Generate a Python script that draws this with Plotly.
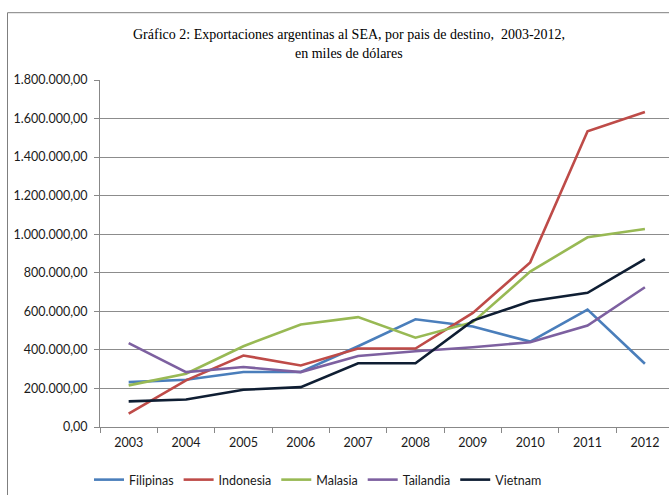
import plotly.graph_objects as go

years = ["2003", "2004", "2005", "2006", "2007", "2008", "2009", "2010", "2011", "2012"]
filipinas = [233000, 245000, 285000, 285000, 419000, 559000, 521000, 443000, 609000, 328000]
indonesia = [69000, 242000, 371000, 319000, 407000, 407000, 592000, 854000, 1534000, 1634000]
malasia = [216000, 276000, 419000, 532000, 570000, 463000, 544000, 806000, 984000, 1027000]
tailandia = [435000, 285000, 311000, 285000, 368000, 393000, 414000, 440000, 526000, 725000]
vietnam = [133000, 143000, 193000, 207000, 331000, 331000, 552000, 652000, 696000, 871000]

series = [
    ("Filipinas", filipinas, "#4A7EBB"),
    ("Indonesia", indonesia, "#BE4B48"),
    ("Malasia", malasia, "#98B954"),
    ("Tailandia", tailandia, "#7D60A0"),
    ("Vietnam", vietnam, "#0F1E33"),
]

fig = go.Figure()
for name, vals, col in series:
    fig.add_trace(go.Scatter(x=years, y=vals, name=name, mode="lines",
                             line=dict(color=col, width=2.6)))

W, H = 669, 495
L, R, T, B = 100, 0, 80, 67
pw, ph = W - L - R, H - T - B

def px2paper_x(x):
    return (x - L) / pw

def px2paper_y(y):
    return (H - B - y) / ph

fig.update_layout(
    width=W, height=H,
    margin=dict(l=L, r=R, t=T, b=B),
    paper_bgcolor="white", plot_bgcolor="white",
    separators=",.",
    font=dict(family="Lato, sans-serif", size=12, color="#1a1a1a"),
    showlegend=True,
    legend=dict(orientation="h", x=px2paper_x(318), xanchor="center",
                y=px2paper_y(481), yanchor="middle",
                font=dict(family="Lato, sans-serif", size=12.5, color="#1a1a1a"),
                itemwidth=30, tracegroupgap=0),
    xaxis=dict(type="category", range=[-0.5, 9.42], showgrid=False,
               showline=True, linecolor="#888888", linewidth=1,
               ticks="outside", tickson="boundaries", ticklen=5, tickcolor="#888888",
               ticklabelstandoff=4,
               tickfont=dict(family="Lato, sans-serif", size=12.5), fixedrange=True),
    yaxis=dict(range=[0, 1800000], tickvals=[i * 200000 for i in range(10)],
               tickformat=",.2f", showgrid=True, gridcolor="#8c8c8c", gridwidth=1,
               showline=True, linecolor="#888888", linewidth=1,
               ticks="outside", ticklen=5, tickcolor="#888888",
               ticklabelstandoff=4,
               zeroline=False,
               tickfont=dict(family="Lato, sans-serif", size=12.5)),
)

fig.add_annotation(x=px2paper_x(349), y=px2paper_y(34), xref="paper", yref="paper",
                   text="Gráfico 2: Exportaciones argentinas al SEA, por pais de destino,  2003-2012,",
                   showarrow=False, xanchor="center", yanchor="middle",
                   font=dict(family="Liberation Serif, Times New Roman, serif", size=14, color="#000"))
fig.add_annotation(x=px2paper_x(349), y=px2paper_y(53), xref="paper", yref="paper",
                   text="en miles de dólares",
                   showarrow=False, xanchor="center", yanchor="middle",
                   font=dict(family="Liberation Serif, Times New Roman, serif", size=14, color="#000"))

fig.add_shape(type="rect", xref="paper", yref="paper",
              x0=px2paper_x(7.5), x1=px2paper_x(700), y0=px2paper_y(12.5), y1=px2paper_y(520),
              line=dict(color="#7f7f7f", width=1), layer="below")

fig.write_html("out.html", config={"displayModeBar": False},
               post_script="document.body.style.margin='0';document.body.style.overflow='hidden';")
